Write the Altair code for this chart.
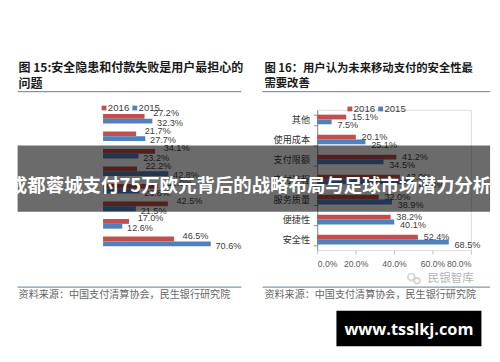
import altair as alt
import pandas as pd

# ---------------- data ----------------
years = ["2016", "2015"]
year_colors = ["#c0504d", "#4f81bd"]

left_cats = ["上网流量费用高", "限额低", "商户不支持", "支付环节操作复杂",
             "网络信号差", "付费失败", "开通繁琐", "存在安全隐患"]
left_2016 = [27.2, 21.7, 34.1, 22.2, 36.0, 42.5, 17.0, 46.5]
left_2015 = [32.3, 27.7, 23.2, 42.8, 23.8, 21.5, 12.6, 70.6]

right_cats = ["其他", "使用成本", "支付限额", "支付流程", "服务质量", "便捷性", "安全性"]
right_2016 = [15.1, 20.1, 41.2, 43.0, 32.0, 38.2, 52.4]
right_2015 = [7.5, 25.1, 34.5, 49.9, 38.9, 40.1, 68.5]

x_ticks = [0, 20, 40, 60, 80]

left_title = ["图 15:安全隐患和付款失败是用户最担心的", "问题"]
right_title = ["图 16：用户认为未来移动支付的安全性最", "需要改善"]
source_note = "资料来源：中国支付清算协会，民生银行研究院"
banner_text = "成都蓉城支付75万欧元背后的战略布局与足球市场潜力分析"
watermark = "民银智库"
site = "www.tsslkj.com"

CJK = "Noto Sans CJK SC"
LAT = "Liberation Sans"
LINE_COLOR = "#5a7896"


def long_df(cats, v16, v15):
    rows = []
    for c, a, b in zip(cats, v16, v15):
        rows.append({"cat": c, "year": years[0], "value": a, "label": f"{a:.1f}%"})
        rows.append({"cat": c, "year": years[1], "value": b, "label": f"{b:.1f}%"})
    return pd.DataFrame(rows)


def one(s=""):
    return alt.Chart(pd.DataFrame({"t": [s]}))


def txt(s, x, y, size, color, weight="normal", align="left", font=CJK):
    return one(s).mark_text(align=align, baseline="middle", fontSize=size, color=color,
                            fontWeight=weight, font=font).encode(
        x=alt.value(x), y=alt.value(y), text="t:N")


def hline(x1, x2, y, color=LINE_COLOR, w=1):
    return one().mark_rule(color=color, strokeWidth=w).encode(
        x=alt.value(x1), x2=alt.value(x2), y=alt.value(y))


def rect(x1, x2, y1, y2, color, opacity=1.0):
    return one().mark_rect(color=color, opacity=opacity).encode(
        x=alt.value(x1), x2=alt.value(x2), y=alt.value(y1), y2=alt.value(y2))


def legend(x0, y0):
    parts = []
    offs = [0, 32]
    for yr, col, o in zip(years, year_colors, offs):
        parts.append(one().mark_square(color=col, size=25, opacity=1).encode(
            x=alt.value(x0 + o), y=alt.value(y0)))
        parts.append(txt(yr, x0 + o + 4, y0, 10, "#404040", font=LAT))
    return parts


def panel(cats, v16, v15, width, pad_inner, dxdy, before, after):
    df = long_df(cats, v16, v15)
    y = alt.Y("cat:N", sort=cats, title=None,
              scale=alt.Scale(domain=cats, paddingInner=pad_inner, paddingOuter=pad_inner / 2),
              axis=alt.Axis(labelFont=CJK, labelFontSize=9.5, labelColor="#333333",
                            labelPadding=4, tickBand="extent", tickSize=4,
                            tickColor="#8c8c8c", domainColor="#8c8c8c", labelLimit=200))
    x = alt.X("value:Q", title=None, scale=alt.Scale(domain=[0, 80], nice=False, zero=True),
              axis=alt.Axis(values=x_ticks, labelExpr="format(datum.value, '.1f') + '%'",
                            labelFont=LAT, labelFontSize=9, labelColor="#595959",
                            domain=False, ticks=True, tickSize=4, tickColor="#bfbfbf",
                            labelPadding=6, grid=False))
    yoff = alt.YOffset("year:N", sort=years, scale=alt.Scale(domain=years))
    color = alt.Color("year:N", scale=alt.Scale(domain=years, range=year_colors), legend=None)
    base = alt.Chart(df)
    bars = base.mark_bar().encode(y=y, x=x, yOffset=yoff, color=color)
    labs = []
    for yr, (dx, dy) in zip(years, dxdy):
        labs.append(base.transform_filter(alt.datum.year == yr).mark_text(
            align="left", baseline="middle", dx=dx, dy=dy, font=LAT, fontSize=9.5,
            color="#404040").encode(y=y, x=x, yOffset=yoff, text="label:N"))
    return alt.layer(*before, bars, *labs, *after).properties(width=width, height=146)


# ---------------- left panel (origin at page 97,106) ----------------
left_before = [
    rect(-89, 403, -98, 246, "white"),
    txt(left_title[0], -88, -43, 12.5, "#1a1a1a", weight="bold"),
    txt(left_title[1], -88, -27, 12.5, "#1a1a1a", weight="bold"),
    hline(-89, 144, -19),
    *legend(1, -2),
    hline(-89, 144, 184.5),
    txt(source_note, -88, 193, 10.5, "#666666"),
]
left = panel(left_cats, left_2016, left_2015, 127, 0.45, [(9, -3), (5, 2)], left_before, [])

# ---------------- right panel (origin at page 320,106) ----------------
right_before = [
    txt(right_title[0], -55, -43, 11.8, "#1a1a1a", weight="bold"),
    txt(right_title[1], -55, -28, 11.8, "#1a1a1a", weight="bold"),
    hline(-57, 180, -19),
    *legend(34, -1),
    hline(-57, 180, 184.5),
    txt(source_note, -55, 193, 10.5, "#666666"),
    one().mark_point(shape="circle", filled=False, color="#c8c8c8", size=50).encode(
        x=alt.value(98), y=alt.value(174)),
    one().mark_point(shape="circle", filled=False, color="#c8c8c8", size=35).encode(
        x=alt.value(104), y=alt.value(178)),
    txt(watermark, 115, 175, 12, "#b5b5b5"),
]
right_after = [
    rect(-312, 180, 37, 106, "black", 0.58),
    txt(banner_text, -70, 79, 19.2, "white", weight="bold", align="center"),
    rect(20, 171, 209, 246, "black"),
    txt(site, 95.5, 229, 17, "white", weight="bold", align="center", font="Open Sans"),
]
right = panel(right_cats, right_2016, right_2015, 160, 0.47, [(6, 0), (6, 3)], right_before, right_after)

chart = alt.hconcat(left, right, spacing=96, bounds="flush").properties(
    padding=0
).configure_view(stroke=None).configure(background="white")

chart.save("out.html", embed_options={"renderer": "svg", "actions": False})
